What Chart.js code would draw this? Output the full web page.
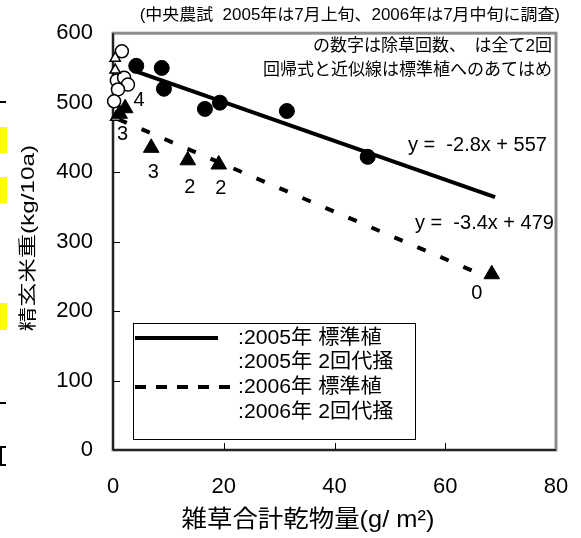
<!DOCTYPE html>
<html>
<head>
<meta charset="utf-8">
<script src="https://cdn.jsdelivr.net/npm/chart.js@4.4.0/dist/chart.umd.min.js"></script>
<style>
    body { margin: 0; background: #fff; }
    #wrap { position: relative; width: 581px; height: 538px; overflow: hidden; }
    #chart { position: absolute; left: 0; top: 0; }
    .edge { position: absolute; left: 0; }
</style>
</head>
<body>
<div id="wrap">
    <canvas id="chart" width="581" height="538"></canvas>
    <!-- bits of the neighbouring figure cut off at the left edge -->
    <div class="edge" style="top:101px;width:6px;height:2px;background:#000"></div>
    <div class="edge" style="top:127px;width:7px;height:26px;background:#ffff00"></div>
    <div class="edge" style="top:177px;width:7px;height:26px;background:#ffff00"></div>
    <div class="edge" style="top:303px;width:7px;height:27px;background:#ffff00"></div>
    <div class="edge" style="top:402px;width:6px;height:2px;background:#000"></div>
    <div class="edge" style="top:446px;width:2px;height:20px;background:#000"></div>
    <div class="edge" style="top:446px;width:6px;height:2px;background:#000"></div>
    <div class="edge" style="top:464px;width:6px;height:2px;background:#000"></div>
</div>
<script>
// 雑草合計乾物量 (g/m2) と 精玄米重 (kg/10a)
const std2005X = [4.2, 8.8, 9.2, 16.6, 19.3, 31.4, 46.0];
const std2005Y = [553, 550, 520, 491, 500, 488, 422];

const puddle2005X = [1.6, 0.7, 2.0, 2.7, 0.9, 0.2];
const puddle2005Y = [574, 532, 536, 526, 519, 502];

const std2006X = [2.2, 1.2, 6.9, 13.5, 19.1, 68.4];
const std2006Y = [492, 484, 435, 417, 411, 253];
const std2006Weeding = ['4', '3', '3', '2', '2', '0'];

const puddle2006X = [0.4, 0.4, 0.5];
const puddle2006Y = [564, 547, 479];

// 近似線の両端
const trend2005X = [3.5, 69];
const trend2005Y = [547, 364];
const trend2006X = [1, 67];
const trend2006Y = [476, 251];

const xTicks = [0, 20, 40, 60, 80];
const yTicks = [0, 100, 200, 300, 400, 500, 600];

const FONT = '"Liberation Sans", Arial, "Noto Sans CJK JP", sans-serif';

function toPoints(xs, ys) {
    return xs.map((x, i) => ({ x: x, y: ys[i] }));
}

function drawText(ctx, str, x, y, size, align, sx) {
    ctx.save();
    ctx.translate(x, y);
    ctx.scale(sx || 1, 1);
    ctx.font = size + 'px ' + FONT;
    ctx.fillStyle = '#000';
    ctx.textAlign = align;
    ctx.textBaseline = 'middle';
    ctx.fillText(str, 0, 0);
    ctx.restore();
}

function line(ctx, x1, y1, x2, y2) {
    ctx.beginPath();
    ctx.moveTo(x1, y1);
    ctx.lineTo(x2, y2);
    ctx.stroke();
}

// label offsets (px) for the weeding count next to each triangle
const weedingOffsets = [[14, -8], [3, 21], [2, 25], [2, 27], [2, 24], [-15, 19]];

const decor = {
    id: 'decor',
    beforeDatasetsDraw(chart) {
        const { ctx, chartArea: a, scales: { x, y } } = chart;
        ctx.save();
        ctx.strokeStyle = '#8c8c8c';
        ctx.lineWidth = 3;
        ctx.strokeRect(a.left, a.top, a.right - a.left, a.bottom - a.top);

        ctx.strokeStyle = '#000';
        ctx.lineWidth = 1.5;
        line(ctx, a.left, a.top, a.left, a.bottom);
        line(ctx, a.left, a.bottom, a.right, a.bottom);

        ctx.lineWidth = 1;
        yTicks.forEach(v => {
            if (v <= 0 || v >= 600) return;
            const py = Math.round(y.getPixelForValue(v)) + 0.5;
            line(ctx, a.left, py, a.left + 7, py);
        });
        xTicks.forEach(v => {
            if (v <= 0 || v >= 80) return;
            const px = Math.round(x.getPixelForValue(v)) + 0.5;
            line(ctx, px, a.bottom, px, a.bottom - 7);
        });
        ctx.restore();
    },
    afterDatasetsDraw(chart) {
        const { ctx, scales: { x, y } } = chart;

        // 除草回数
        std2006Weeding.forEach((t, i) => {
            const px = x.getPixelForValue(std2006X[i]) + weedingOffsets[i][0];
            const py = y.getPixelForValue(std2006Y[i]) + weedingOffsets[i][1];
            drawText(ctx, t, px, py, 20, 'center');
        });

        // legend
        ctx.save();
        ctx.fillStyle = '#fff';
        ctx.fillRect(133, 323, 282, 116);
        ctx.strokeStyle = '#000';
        ctx.lineWidth = 1;
        ctx.strokeRect(133.5, 323.5, 282, 116);
        ctx.lineWidth = 4;
        line(ctx, 135, 338, 218, 338);
        ctx.setLineDash([11, 10]);
        line(ctx, 135, 387, 230, 387);
        ctx.restore();
        drawText(ctx, ':2005年 標準植', 238, 338, 20, 'left', 1.06);
        drawText(ctx, ':2005年 2回代掻', 238, 362, 20, 'left', 1.06);
        drawText(ctx, ':2006年 標準植', 238, 387, 20, 'left', 1.06);
        drawText(ctx, ':2006年 2回代掻', 238, 412, 20, 'left', 1.06);

        // notes and fitted equations
        drawText(ctx, 'の数字は除草回数、　は全て2回', 552, 46, 17, 'right');
        drawText(ctx, '回帰式と近似線は標準植へのあてはめ', 552, 70, 17, 'right');
        drawText(ctx, 'y =  -2.8x + 557', 408, 145, 20, 'left');
        drawText(ctx, 'y =  -3.4x + 479', 415, 223, 20, 'left');
    },
    afterDraw(chart) {
        const { ctx } = chart;
        drawText(ctx, '(中央農試  2005年は7月上旬、2006年は7月中旬に調査)', 560, 16, 16, 'right', 1.06);
        drawText(ctx, '雑草合計乾物量(g/ m²)', 308, 520, 24, 'center', 1.06);

        ctx.save();
        ctx.translate(29, 238);
        ctx.rotate(-Math.PI / 2);
        drawText(ctx, '精玄米重(kg/10a)', 0, 0, 18, 'center', 1.35);
        ctx.restore();
    }
};

const ctx = document.getElementById('chart').getContext('2d');
new Chart(ctx, {
    type: 'scatter',
    data: {
        datasets: [
            {
                label: '2005年 近似線',
                data: toPoints(trend2005X, trend2005Y),
                showLine: true,
                borderColor: '#000',
                borderWidth: 4,
                pointRadius: 0,
                clip: false,
                order: 7
            },
            {
                label: '2006年 近似線',
                data: toPoints(trend2006X, trend2006Y),
                showLine: true,
                borderColor: '#000',
                borderWidth: 4,
                borderDash: [9, 16],
                borderCapStyle: 'butt',
                pointRadius: 0,
                clip: false,
                order: 6
            },
            {
                label: '2005年 2回代掻',
                data: toPoints(puddle2005X, puddle2005Y),
                pointStyle: 'circle',
                pointRadius: 6.5,
                backgroundColor: '#fff',
                borderColor: '#000',
                borderWidth: 1.5,
                clip: false,
                order: 5
            },
            {
                label: '2006年 2回代掻',
                data: toPoints(puddle2006X, puddle2006Y),
                pointStyle: 'triangle',
                pointRadius: 6,
                backgroundColor: '#fff',
                borderColor: '#000',
                borderWidth: 1.5,
                clip: false,
                order: 4
            },
            {
                label: '2005年 標準植',
                data: toPoints(std2005X, std2005Y),
                pointStyle: 'circle',
                pointRadius: 7.5,
                backgroundColor: '#000',
                borderColor: '#000',
                borderWidth: 1,
                clip: false,
                order: 3
            },
            {
                label: '2006年 標準植',
                data: toPoints(std2006X, std2006Y),
                pointStyle: 'triangle',
                pointRadius: 9,
                backgroundColor: '#000',
                borderColor: '#000',
                borderWidth: 1,
                clip: false,
                order: 2
            }
        ]
    },
    options: {
        responsive: false,
        animation: false,
        layout: { padding: { top: 28, right: 25, left: 0, bottom: 0 } },
        plugins: {
            legend: { display: false },
            tooltip: { enabled: false }
        },
        scales: {
            x: {
                type: 'linear',
                min: 0,
                max: 80,
                afterBuildTicks: s => { s.ticks = xTicks.map(v => ({ value: v })); },
                afterFit: s => {
                    s.height = 88;
                    s.paddingLeft = 0;
                    s.paddingRight = 0;
                },
                grid: { display: false, drawTicks: false },
                border: { display: false },
                ticks: {
                    autoSkip: false,
                    maxRotation: 0,
                    padding: 24,
                    color: '#000',
                    font: { family: FONT, size: 22 }
                }
            },
            y: {
                type: 'linear',
                min: 0,
                max: 600,
                afterBuildTicks: s => { s.ticks = yTicks.map(v => ({ value: v })); },
                afterFit: s => { s.width = 113; },
                grid: { display: false, drawTicks: false },
                border: { display: false },
                ticks: {
                    autoSkip: false,
                    padding: 20,
                    color: '#000',
                    font: { family: FONT, size: 22 }
                }
            }
        }
    },
    plugins: [decor]
});
</script>
</body>
</html>
